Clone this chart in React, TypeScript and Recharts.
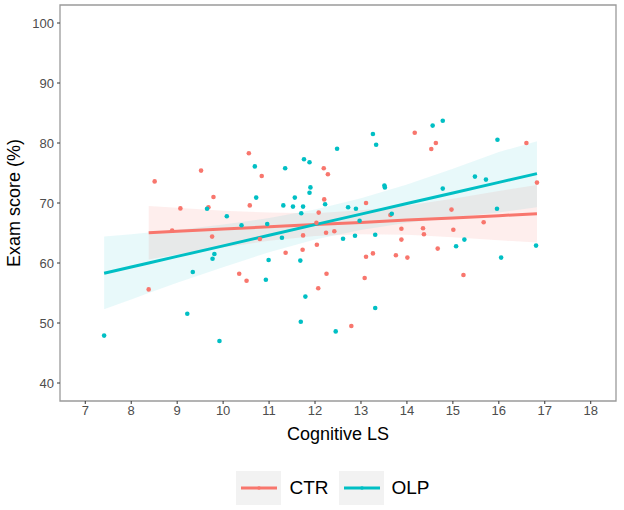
import { ComposedChart, Scatter, Line, Area, XAxis, YAxis, ReferenceArea } from 'recharts';

const ctrColor = '#F8766D';
const olpColor = '#00BFC4';

// raw scores
const ctrLS = [10.56, 9.52, 8.51, 10.84, 12.19, 12.28, 9.79, 9.07, 9.68, 10.58, 12.2, 12.08, 8.89, 9.76, 10.8, 11.74, 12.24, 12.42, 12.04, 11.36, 11.73, 10.35, 10.51, 12.25, 12.07, 8.38, 12.03,
  14.17, 14.53, 14.63, 16.6, 16.83, 13.11, 13.64, 14.97, 15.67, 13.88, 14.35, 14.37, 13.88, 15.01, 14.67, 13.11, 13.26, 13.76, 14.01, 13.08, 15.23, 12.79];
const ctrScore = [78.3, 75.4, 73.6, 74.5, 75.8, 74.8, 71.0, 69.1, 69.3, 69.6, 70.6, 68.4, 65.4, 64.4, 64.0, 64.6, 65.05, 65.3, 63.05, 61.7, 62.2, 58.2, 57.05, 58.2, 55.8, 55.6, 66.7,
  81.7, 79.0, 80.0, 80.0, 73.4, 70.0, 68.0, 68.9, 66.8, 65.7, 65.8, 64.8, 63.9, 65.55, 62.4, 61.05, 61.6, 61.3, 60.9, 57.5, 58.0, 49.5];

const olpLS = [12.48, 10.69, 11.76, 11.88, 11.35, 11.9, 11.88, 10.72, 11.56, 12.22, 11.31, 11.52, 11.74, 11.7, 9.65, 10.08, 10.4, 10.96, 11.28, 9.81, 9.77, 10.99, 11.68, 9.34, 10.93, 11.79, 9.22, 11.69, 12.45, 9.92, 7.41,
  13.26, 13.33, 14.56, 14.78, 15.97, 13.51, 13.52, 14.78, 15.48, 15.72, 12.72, 12.89, 13.67, 12.97, 15.96, 12.61, 12.87, 13.31, 15.07, 15.25, 16.81, 16.05, 13.31];
const olpScore = [79.05, 76.1, 77.3, 76.8, 75.8, 72.6, 71.7, 70.9, 70.9, 69.8, 69.6, 69.4, 69.4, 68.3, 69.05, 67.8, 66.3, 66.5, 64.2, 61.5, 60.7, 60.5, 60.4, 58.5, 57.2, 54.4, 51.55, 50.2, 48.6, 47.0, 47.9,
  81.5, 79.7, 82.9, 83.7, 80.55, 72.9, 72.6, 72.4, 74.4, 73.9, 69.3, 69.05, 68.2, 67.05, 69.05, 64.05, 64.55, 64.7, 62.8, 63.9, 62.9, 60.9, 52.5];

// fitted lines and 95% bands, read at these x positions
const fitLS = [7.41, 8, 8.38, 9, 10, 11, 12, 13, 14, 15, 16, 16.83];
const ctrFit = [null, null, 65.05, 65.28, 65.65, 66.03, 66.4, 66.77, 67.15, 67.52, 67.89, 68.2];
const ctrLo = [null, null, 60.6, 61.4, 62.6, 63.7, 64.5, 64.8, 64.7, 64.3, 63.8, 63.4];
const ctrHi = [null, null, 69.5, 69.2, 68.7, 68.4, 68.3, 68.8, 69.6, 70.7, 72.0, 73.0];
const olpFit = [58.3, 59.34, 60.0, 61.1, 62.86, 64.63, 66.39, 68.15, 69.91, 71.67, 73.44, 74.9];
const olpLo = [52.3, 53.9, 55.0, 56.7, 59.3, 61.8, 63.9, 65.5, 66.7, 67.6, 68.4, 69.3];
const olpHi = [64.4, 64.8, 65.1, 65.5, 66.4, 67.5, 68.9, 70.8, 73.1, 75.7, 78.5, 80.3];

const xTicks = [7, 8, 9, 10, 11, 12, 13, 14, 15, 16, 17, 18];
const yTicks = [40, 50, 60, 70, 80, 90, 100];
const xDomain = [6.45, 18.55];
const yDomain = [37, 103];

const groups = [
  { name: 'CTR', color: ctrColor },
  { name: 'OLP', color: olpColor },
];

const ctrPoints = ctrLS.map((x, i) => ({ x, y: ctrScore[i] }));
const olpPoints = olpLS.map((x, i) => ({ x, y: olpScore[i] }));
const fitRows = fitLS.map((x, i) => ({
  x,
  ctrFit: ctrFit[i],
  ctrBand: ctrLo[i] == null ? null : [ctrLo[i], ctrHi[i]],
  olpFit: olpFit[i],
  olpBand: [olpLo[i], olpHi[i]],
}));

const font = '"Liberation Sans", Arial, sans-serif';
const tickStyle = { fontSize: 13, fill: '#4d4d4d', fontFamily: font };

const dot = (color: string) => (p: any) => <circle cx={p.cx} cy={p.cy} r={2.3} fill={color} />;

const xTitle = (props: any) => {
  const vb = props.viewBox;
  return (
    <text x={vb.x + vb.width / 2} y={vb.y + 33} textAnchor="middle" dominantBaseline="central" fontSize={18} fill="#000" fontFamily={font}>
      Cognitive LS
    </text>
  );
};

const yTitle = (props: any) => {
  const vb = props.viewBox;
  const cx = 14;
  const cy = vb.y + vb.height / 2;
  return (
    <text x={cx} y={cy} transform={`rotate(-90 ${cx} ${cy})`} textAnchor="middle" dominantBaseline="central" fontSize={18} fill="#000" fontFamily={font}>
      Exam score (%)
    </text>
  );
};

function LegendKey({ color }: { color: string }) {
  return (
    <svg width={45} height={34} style={{ background: '#f2f2f2', display: 'block' }}>
      <line x1={5} x2={41} y1={17} y2={17} stroke={color} strokeWidth={3} />
      <circle cx={23} cy={17} r={1.8} fill={color} />
    </svg>
  );
}

export default function App() {
  return (
    <div style={{ position: 'absolute', left: 0, top: 0, width: 624, height: 510, background: '#fff', fontFamily: font }}>
      <ComposedChart width={624} height={450} data={fitRows} margin={{ top: 5, right: 8, left: 0, bottom: 5 }}>
        <XAxis
          type="number"
          dataKey="x"
          domain={xDomain}
          ticks={xTicks}
          allowDataOverflow
          axisLine={false}
          tickSize={3}
          tickLine={{ stroke: '#333' }}
          tick={tickStyle}
          tickMargin={2}
          height={44}
          label={{ content: xTitle }}
        />
        <YAxis
          type="number"
          domain={yDomain}
          ticks={yTicks}
          allowDataOverflow
          axisLine={false}
          tickSize={3}
          tickLine={{ stroke: '#333' }}
          tick={tickStyle}
          tickMargin={3}
          width={60}
          label={{ content: yTitle }}
        />
        <Area type="linear" dataKey="ctrBand" stroke="none" fill={ctrColor} fillOpacity={0.12} isAnimationActive={false} />
        <Area type="linear" dataKey="olpBand" stroke="none" fill={olpColor} fillOpacity={0.09} isAnimationActive={false} />
        <Scatter data={ctrPoints} dataKey="y" shape={dot(ctrColor)} isAnimationActive={false} />
        <Scatter data={olpPoints} dataKey="y" shape={dot(olpColor)} isAnimationActive={false} />
        <Line type="linear" dataKey="ctrFit" stroke={ctrColor} strokeWidth={3} dot={false} activeDot={false} isAnimationActive={false} />
        <Line type="linear" dataKey="olpFit" stroke={olpColor} strokeWidth={3} dot={false} activeDot={false} isAnimationActive={false} />
        <ReferenceArea x1={xDomain[0]} x2={xDomain[1]} y1={yDomain[0]} y2={yDomain[1]} fill="none" stroke="#9a9a9a" strokeWidth={1.3} ifOverflow="visible" />
      </ComposedChart>
      <div style={{ position: 'absolute', left: 60, width: 556, top: 471, display: 'flex', justifyContent: 'center', alignItems: 'center' }}>
        {groups.map((g) => (
          <div key={g.name} style={{ display: 'flex', alignItems: 'center', marginRight: 10 }}>
            <LegendKey color={g.color} />
            <span style={{ fontSize: 19, color: '#000', marginLeft: 8 }}>{g.name}</span>
          </div>
        ))}
      </div>
    </div>
  );
}
